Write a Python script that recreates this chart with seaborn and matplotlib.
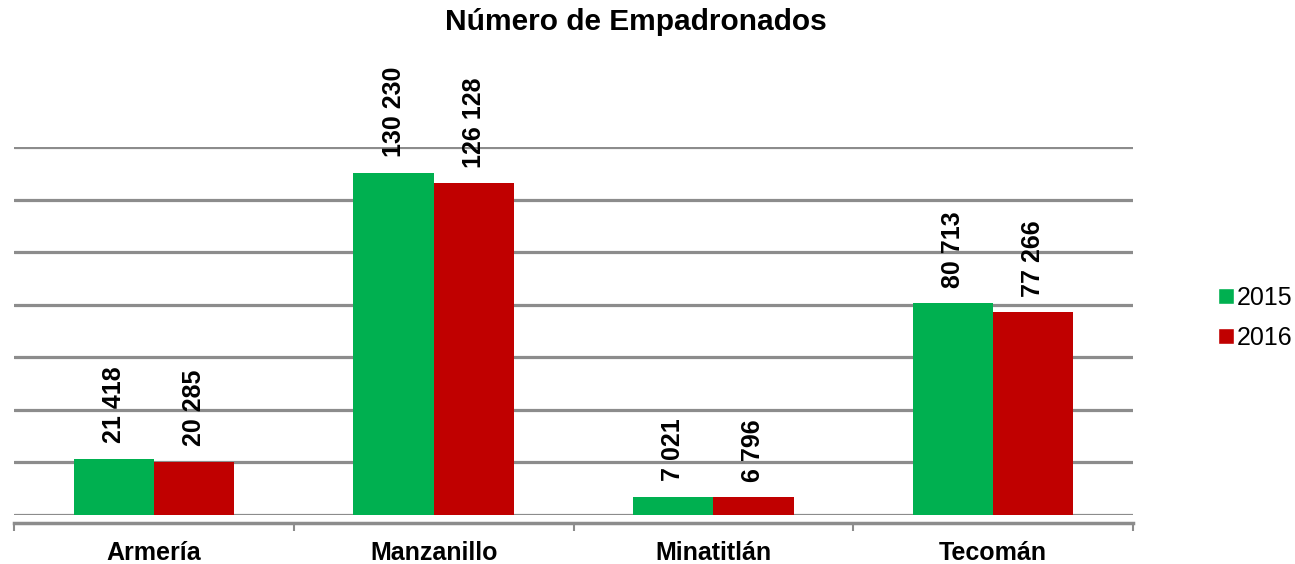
import numpy as np
import pandas as pd
import matplotlib
matplotlib.use("Agg")
import matplotlib.pyplot as plt
import seaborn as sns
from matplotlib.lines import Line2D

municipios = ["Armería", "Manzanillo", "Minatitlán", "Tecomán"]
valores_2015 = [21418, 130230, 7021, 80713]
valores_2016 = [20285, 126128, 6796, 77266]
anios = ["2015", "2016"]
colores = ["#00B050", "#C00000"]

df = pd.DataFrame({
    "municipio": municipios * 2,
    "anio": [anios[0]] * len(municipios) + [anios[1]] * len(municipios),
    "valor": valores_2015 + valores_2016,
})

sns.set_theme(style="white")
plt.rcParams["font.family"] = ["Liberation Sans", "DejaVu Sans"]
plt.rcParams["text.color"] = "black"
plt.rcParams["xtick.color"] = "black"

fig = plt.figure(figsize=(12.95, 5.64), dpi=100)
ax = fig.add_axes([14 / 1295, 1 - 515 / 564, (1133 - 14) / 1295, (515 - 147) / 564])

sns.barplot(
    data=df, x="municipio", y="valor", hue="anio",
    palette=colores, width=0.573, saturation=1, gap=0,
    edgecolor="none", legend=False, ax=ax,
)

for container in ax.containers:
    labels = [f"{int(v):,}".replace(",", " ") for v in container.datavalues]
    ax.bar_label(container, labels=labels, rotation=90, padding=11,
                 fontsize=18, fontweight="bold", color="black")

ax.set_xlim(-0.5, 3.5)
ax.set_ylim(0, 140000)
ax.set_yticks(np.arange(0, 140001, 20000))
ax.set_yticklabels([])
ax.tick_params(axis="y", length=0)
ax.yaxis.grid(True, color="#8c8c8c", linewidth=2.3)
ax.set_axisbelow(True)

for side in ["top", "right", "left"]:
    ax.spines[side].set_visible(False)
ax.spines["bottom"].set_position(("outward", 6))
ax.spines["bottom"].set_color("#8c8c8c")
ax.spines["bottom"].set_linewidth(2.5)

ax.set_xticks(np.arange(-0.5, 4, 1), minor=True)
ax.tick_params(axis="x", which="minor", bottom=True, length=6, width=1.5,
               color="#8c8c8c", direction="out")
ax.tick_params(axis="x", which="major", length=0, pad=13, labelcolor="black")
for lbl in ax.get_xticklabels():
    lbl.set_fontsize(18)
    lbl.set_fontweight("bold")
ax.set_xlabel("")
ax.set_ylabel("")

fig.text(636 / 1295, 1 - 22 / 564, "Número de Empadronados", ha="center", va="center",
         fontsize=21.5, fontweight="bold", color="black")

handles = [Line2D([0], [0], marker="s", linestyle="none", markersize=11,
                  markerfacecolor=c, markeredgecolor="white") for c in colores]
fig.legend(handles, anios, loc="center left", bbox_to_anchor=(1206 / 1295, 1 - 318 / 564),
           frameon=False, fontsize=18, handlelength=0.6, handletextpad=0.15,
           labelspacing=0.65, borderpad=0, labelcolor="black")

fig.savefig("out.png", dpi=100)
